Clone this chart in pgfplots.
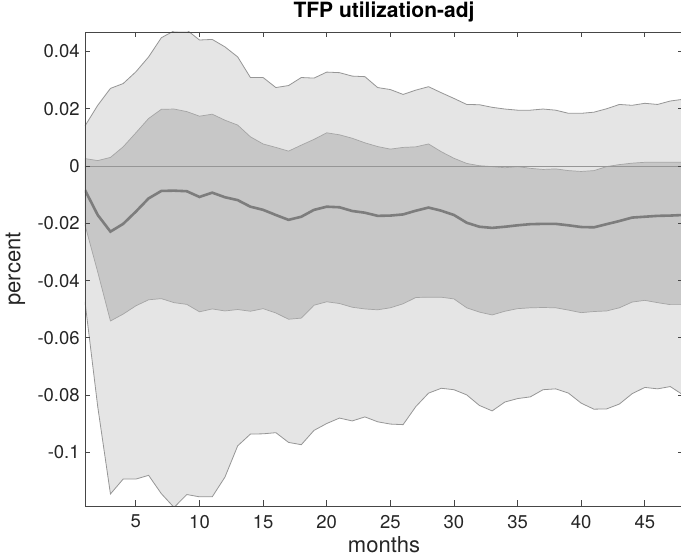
\documentclass[border=0pt]{standalone}
\usepackage{fontspec}
\setmainfont{TeX Gyre Heros}
\usepackage{pgfplots}
\pgfplotsset{compat=1.18}
\usepackage{pgfplotstable}
\usepgfplotslibrary{fillbetween}

\definecolor{outerfill}{RGB}{229,229,229}
\definecolor{innerfill}{RGB}{199,199,199}
\definecolor{edgecol}{RGB}{150,150,150}
\definecolor{medcol}{RGB}{125,125,125}
\definecolor{zerocol}{RGB}{150,150,150}
\definecolor{axcol}{RGB}{70,70,70}

\pgfplotstableread{
x ohi ihi med ilo olo
1 0.0140 0.0026 -0.0084 -0.0206 -0.0474
2 0.0212 0.0019 -0.0171 -0.0370 -0.0840
3 0.0271 0.0030 -0.0229 -0.0541 -0.1145
4 0.0288 0.0067 -0.0202 -0.0517 -0.1093
5 0.0329 0.0116 -0.0159 -0.0488 -0.1093
6 0.0381 0.0166 -0.0113 -0.0467 -0.1080
7 0.0448 0.0198 -0.0087 -0.0463 -0.1144
8 0.0472 0.0199 -0.0086 -0.0477 -0.1192
9 0.0475 0.0190 -0.0088 -0.0483 -0.1147
10 0.0440 0.0174 -0.0108 -0.0509 -0.1155
11 0.0442 0.0181 -0.0093 -0.0499 -0.1155
12 0.0416 0.0160 -0.0109 -0.0506 -0.1086
13 0.0381 0.0143 -0.0119 -0.0501 -0.0977
14 0.0309 0.0102 -0.0142 -0.0507 -0.0936
15 0.0309 0.0077 -0.0153 -0.0498 -0.0935
16 0.0274 0.0065 -0.0171 -0.0513 -0.0931
17 0.0281 0.0052 -0.0188 -0.0535 -0.0965
18 0.0309 0.0073 -0.0177 -0.0531 -0.0973
19 0.0307 0.0093 -0.0153 -0.0486 -0.0923
20 0.0328 0.0116 -0.0142 -0.0474 -0.0899
21 0.0326 0.0109 -0.0144 -0.0480 -0.0880
22 0.0314 0.0097 -0.0157 -0.0493 -0.0890
23 0.0312 0.0081 -0.0163 -0.0499 -0.0876
24 0.0274 0.0068 -0.0174 -0.0502 -0.0893
25 0.0267 0.0059 -0.0173 -0.0495 -0.0901
26 0.0250 0.0065 -0.0169 -0.0481 -0.0903
27 0.0265 0.0067 -0.0156 -0.0459 -0.0840
28 0.0277 0.0077 -0.0145 -0.0458 -0.0793
29 0.0256 0.0050 -0.0156 -0.0458 -0.0776
30 0.0236 0.0027 -0.0171 -0.0464 -0.0781
31 0.0215 0.0009 -0.0198 -0.0495 -0.0799
32 0.0214 0.0001 -0.0212 -0.0510 -0.0836
33 0.0205 -0.0002 -0.0216 -0.0520 -0.0855
34 0.0199 -0.0006 -0.0212 -0.0507 -0.0824
35 0.0195 -0.0002 -0.0207 -0.0498 -0.0812
36 0.0195 -0.0008 -0.0203 -0.0495 -0.0806
37 0.0199 -0.0012 -0.0202 -0.0494 -0.0781
38 0.0195 -0.0010 -0.0202 -0.0495 -0.0778
39 0.0184 -0.0016 -0.0207 -0.0503 -0.0793
40 0.0184 -0.0019 -0.0213 -0.0512 -0.0828
41 0.0188 -0.0016 -0.0214 -0.0508 -0.0849
42 0.0200 -0.0002 -0.0203 -0.0506 -0.0848
43 0.0215 0.0005 -0.0192 -0.0495 -0.0831
44 0.0212 0.0010 -0.0180 -0.0475 -0.0795
45 0.0219 0.0013 -0.0177 -0.0469 -0.0773
46 0.0215 0.0013 -0.0174 -0.0477 -0.0778
47 0.0227 0.0013 -0.0173 -0.0484 -0.0770
48 0.0233 0.0013 -0.0171 -0.0484 -0.0799
}\irf

\begin{document}
\begin{tikzpicture}
\begin{axis}[
  scale only axis, width=598pt, height=474pt,
  xmin=1, xmax=48, ymin=-0.1187, ymax=0.0468,
  xtick={5,10,15,20,25,30,35,40,45},
  ytick={-0.1,-0.08,-0.06,-0.04,-0.02,0,0.02,0.04},
  yticklabels={-0.1,-0.08,-0.06,-0.04,-0.02,0,0.02,0.04},
  scaled y ticks=false,
  tick align=inside, major tick length=5.5pt,
  axis on top,
  axis line style={draw=axcol, line width=0.9pt},
  every tick/.style={draw=axcol, line width=0.9pt},
  tick label style={font=\fontsize{18.5}{20}\selectfont, text=black!85},
  /pgf/number format/assume math mode=true,
  xticklabel shift=5.5pt,
  yticklabel shift=1.8pt,
  title={TFP utilization-adj},
  title style={font=\fontsize{21}{23}\selectfont\bfseries, at={(axis description cs:0.5,1.0169)}, anchor=base},
  xlabel={months},
  xlabel style={font=\fontsize{22}{24}\selectfont, text=black!85, at={(axis description cs:0.5,-0.0985)}, anchor=base},
  ylabel={percent},
  ylabel style={font=\fontsize{22}{24}\selectfont, text=black!85, at={(axis description cs:-0.1082,0.5)}, anchor=base, rotate=0},
]
\addplot[draw=none, name path=ohi] table[x=x,y=ohi]{\irf};
\addplot[draw=none, name path=olo] table[x=x,y=olo]{\irf};
\addplot[draw=none, name path=ihi] table[x=x,y=ihi]{\irf};
\addplot[draw=none, name path=ilo] table[x=x,y=ilo]{\irf};
\addplot[fill=outerfill, draw=none] fill between[of=ohi and olo];
\addplot[draw=edgecol, line width=0.8pt] table[x=x,y=ohi]{\irf};
\addplot[draw=edgecol, line width=0.8pt] table[x=x,y=olo]{\irf};
\addplot[fill=innerfill, draw=none] fill between[of=ihi and ilo];
\addplot[draw=edgecol!70!innerfill, line width=0.7pt] table[x=x,y=ihi]{\irf};
\addplot[draw=edgecol!70!innerfill, line width=0.7pt] table[x=x,y=ilo]{\irf};
\addplot[draw=zerocol, line width=0.9pt] coordinates {(1,0) (48,0)};
\addplot[draw=medcol, line width=2.6pt] table[x=x,y=med]{\irf};
\coordinate (sw) at (rel axis cs:0,0);
\coordinate (ne) at (rel axis cs:1,1);
\end{axis}
\pgfresetboundingbox
\path[use as bounding box] ([xshift=-85pt,yshift=-52pt]sw) rectangle ([xshift=-2pt,yshift=32pt]ne);
\end{tikzpicture}
\end{document}
